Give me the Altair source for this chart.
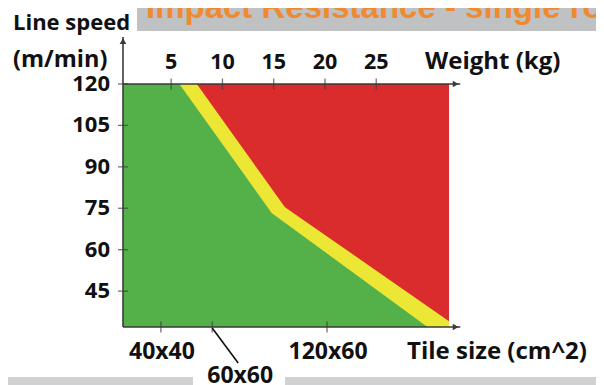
import altair as alt
import pandas as pd

# ---------------- data ----------------
TITLE = "Impact Resistance - single roll"
Y_TITLE_1 = "Line speed"
Y_TITLE_2 = "(m/min)"
X_TITLE_TOP = "Weight (kg)"
X_TITLE_BOTTOM = "Tile size (cm^2)"

weight_ticks = [5, 10, 15, 20, 25]
speed_ticks = [45, 60, 75, 90, 105, 120]
tile_labels = ["40x40", "60x60", "120x60"]
tile_weights = [4.0, 9.0, 20.2]

# boundary of the green (safe) zone
green_w = [0.3, 5.8, 14.8, 30.0, 32.1]
green_s = [120, 120, 73.3, 32, 32]
# boundary of the yellow (marginal) zone
yellow_w = [0.3, 7.5, 16.1, 32.1]
yellow_s = [120, 120, 75.4, 34.1]
# red (failure) zone
red_w = [0.3, 32.1]
red_s = [120, 120]

X_DOM = [0.3, 32.1]
Y_DOM = [32, 120]
X_ARROW = 33.2
Y_ARROW = 137

# ---------------- style ----------------
GREEN = "#54b14a"
YELLOW = "#ece634"
RED = "#da2c2c"
AXC = "#3a3a3a"
FONT = "Open Sans"
ORANGE = "#f08a30"
TXT = "#111111"

xs = alt.Scale(domain=X_DOM, nice=False, zero=False)
ys = alt.Scale(domain=Y_DOM, nice=False, zero=False)


def X(f):
    return alt.X(f, type="quantitative", scale=xs, axis=None)


def Y(f):
    return alt.Y(f, type="quantitative", scale=ys, axis=None)


def XD(v):
    return alt.XDatum(v, type="quantitative", scale=xs, axis=None)


def YD(v):
    return alt.YDatum(v, type="quantitative", scale=ys, axis=None)


red_df = pd.DataFrame({"w": red_w, "s": red_s})
yel_df = pd.DataFrame({"w": yellow_w, "s": yellow_s})
grn_df = pd.DataFrame({"w": green_w, "s": green_s})
wt_df = pd.DataFrame({"w": weight_ticks})
sp_df = pd.DataFrame({"s": speed_ticks})
tile_df = pd.DataFrame({"label": tile_labels, "w": tile_weights})
one = pd.DataFrame({"a": [0]})

red = alt.Chart(red_df).mark_area(color=RED, clip=True).encode(
    x=X("w"), y=Y("s"), y2=alt.Y2Datum(Y_DOM[0]))
yel = alt.Chart(yel_df).mark_area(color=YELLOW, clip=True).encode(
    x=X("w"), y=Y("s"), y2=alt.Y2Datum(Y_DOM[0]))
grn = alt.Chart(grn_df).mark_area(color=GREEN, clip=True).encode(
    x=X("w"), y=Y("s"), y2=alt.Y2Datum(Y_DOM[0]))

axis_df = pd.DataFrame({
    "x": [X_DOM[0], X_DOM[0], X_DOM[0]],
    "x2": [X_ARROW, X_ARROW, X_DOM[0]],
    "y": [Y_DOM[1], Y_DOM[0], Y_DOM[0]],
    "y2": [Y_DOM[1], Y_DOM[0], Y_ARROW],
})
axes = alt.Chart(axis_df).mark_rule(color=AXC, strokeWidth=1.6).encode(
    x=X("x"), x2="x2", y=Y("y"), y2="y2")

arrow_df = pd.DataFrame({
    "x": [X_ARROW - 0.45, X_ARROW - 0.45, X_DOM[0]],
    "y": [Y_DOM[1], Y_DOM[0], Y_ARROW - 1.5],
    "shape": ["triangle-right", "triangle-right", "triangle-up"],
})
arrows = alt.Chart(arrow_df).mark_point(filled=True, size=45, color=AXC, opacity=1).encode(
    x=X("x"), y=Y("y"), shape=alt.Shape("shape:N", scale=None))

top_ticks = alt.Chart(wt_df).mark_tick(orient="vertical", size=11, thickness=1.3, color=AXC).encode(
    x=X("w"), y=YD(Y_DOM[1]))
bot_ticks = alt.Chart(tile_df).mark_tick(orient="vertical", size=11, thickness=1.3, color=AXC).encode(
    x=X("w"), y=YD(Y_DOM[0]))
y_ticks = alt.Chart(sp_df).mark_tick(orient="horizontal", size=10, thickness=1.3, color=AXC).encode(
    x=XD(X_DOM[0]), y=Y("s"))


def lab(size):
    return dict(font=FONT, fontWeight="bold", fontSize=size, color=TXT)


top_labels = alt.Chart(wt_df).mark_text(dy=-15, baseline="alphabetic", **lab(21.5)).encode(
    x=X("w"), y=YD(Y_DOM[1]), text="w:Q")
y_labels = alt.Chart(sp_df).mark_text(dx=-13, align="right", baseline="middle", **lab(22)).encode(
    x=XD(X_DOM[0]), y=Y("s"), text="s:Q")
tile_main = alt.Chart(tile_df).transform_filter(alt.datum.label != "60x60").mark_text(
    dy=32, dx=1, baseline="alphabetic", **lab(23)).encode(
    x=X("w"), y=YD(Y_DOM[0]), text="label:N")
tile_low = alt.Chart(tile_df).transform_filter(alt.datum.label == "60x60").mark_text(
    dy=56, dx=28, baseline="alphabetic", **lab(23)).encode(
    x=X("w"), y=YD(Y_DOM[0]), text="label:N")
leader = alt.Chart(tile_df).transform_filter(alt.datum.label == "60x60").mark_rule(
    color=TXT, strokeWidth=1.6, yOffset=1, x2Offset=26, y2Offset=36).encode(
    x=X("w"), x2="w", y=YD(Y_DOM[0]), y2=alt.Y2Datum(Y_DOM[0]))


def ttl(size):
    return dict(font=FONT, fontWeight="bold", fontSize=size, color=TXT,
                align="left", baseline="alphabetic")


t1 = alt.Chart(one).mark_text(text=Y_TITLE_1, **ttl(22)).encode(x=alt.value(-110), y=alt.value(-54))
t2 = alt.Chart(one).mark_text(text=Y_TITLE_2, **ttl(23.5)).encode(x=alt.value(-110), y=alt.value(-17))
t3 = alt.Chart(one).mark_text(text=X_TITLE_TOP, **ttl(24)).encode(x=alt.value(302), y=alt.value(-15))
t4 = alt.Chart(one).mark_text(text=X_TITLE_BOTTOM, **ttl(24)).encode(x=alt.value(284), y=alt.value(275))

banner = alt.Chart(one).mark_rect(color="#bfc1c3").encode(
    x=alt.value(14), x2=alt.value(500), y=alt.value(-95), y2=alt.value(-53))
banner_text = alt.Chart(one).mark_text(
    text=TITLE, font="Liberation Sans", fontWeight="bold", fontSize=33, color=ORANGE,
    align="left", baseline="alphabetic").encode(x=alt.value(23), y=alt.value(-66))
bar1 = alt.Chart(one).mark_rect(color="#cfd1d3").encode(
    x=alt.value(-130), x2=alt.value(70), y=alt.value(293), y2=alt.value(310))
bar2 = alt.Chart(one).mark_rect(color="#cfd1d3").encode(
    x=alt.value(162), x2=alt.value(500), y=alt.value(293), y2=alt.value(310))

chart = alt.layer(
    banner, banner_text, bar1, bar2,
    red, yel, grn,
    axes, arrows, top_ticks, bot_ticks, y_ticks, leader,
    top_labels, y_labels, tile_main, tile_low,
    t1, t2, t3, t4,
).properties(
    width=326, height=243,
    padding={"left": 115, "top": 76, "right": 147, "bottom": 58},
    autosize=alt.AutoSizeParams(type="none"),
    background="white",
).configure_view(stroke=None)

chart.save("out.html", embed_options={"renderer": "svg", "actions": False})
